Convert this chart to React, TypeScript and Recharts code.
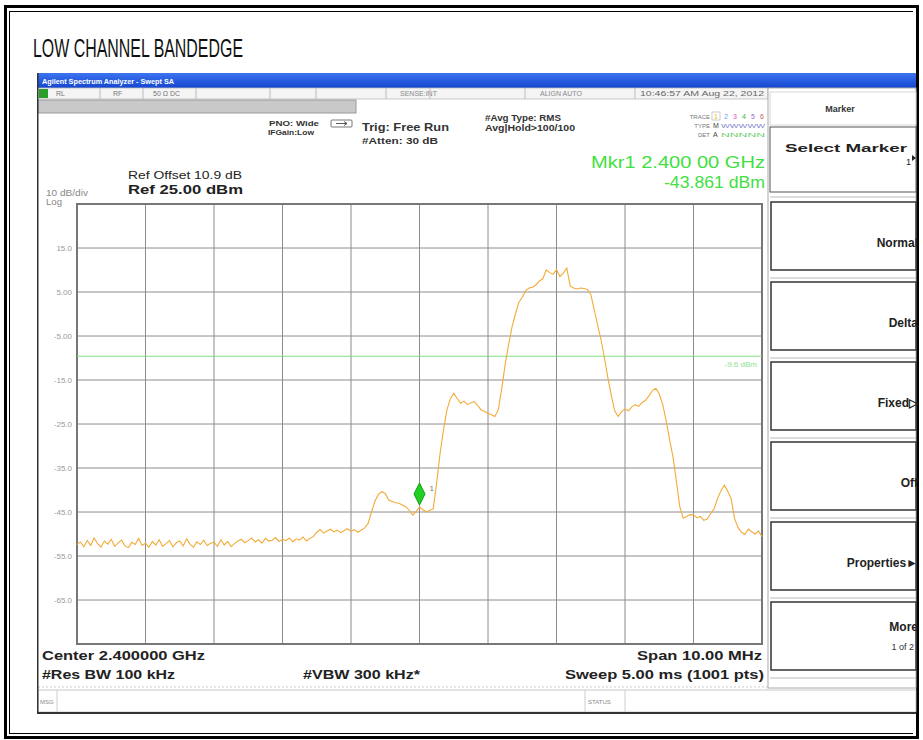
import React from 'react';
import { LineChart, Line, XAxis, YAxis, CartesianGrid, ReferenceLine, ReferenceDot, ReferenceArea } from 'recharts';

const START_MHZ = 2395;
const STEP_MHZ = 0.05;
const levelsDbm = [
  -52.4, -51.8, -52.9, -51.5, -52.6, -50.9, -52.2, -53.0, -51.6, -52.3,
  -51.2, -52.8, -52.0, -51.4, -52.7, -53.1, -51.9, -52.4, -51.0, -52.6,
  -52.1, -53.0, -51.7, -52.5, -51.3, -52.8, -52.2, -51.5, -52.9, -52.0,
  -51.6, -52.7, -51.1, -52.3, -53.0, -51.8, -52.4, -51.4, -52.6, -52.1,
  -51.9, -52.8, -51.3, -52.5, -51.7, -52.9, -52.2, -51.6, -51.2, -52.0,
  -51.5, -50.9, -51.8, -51.3, -52.1, -51.0, -51.6, -51.4, -50.8, -51.7,
  -51.2, -51.5, -50.9, -51.8, -51.1, -51.4, -50.7, -51.6, -51.0, -50.6,
  -49.6, -49.0, -49.8, -49.3, -48.9, -49.5, -49.1, -49.7, -49.2, -48.8,
  -49.4, -49.0, -49.6, -49.1, -48.6, -47.6, -45.0, -42.5, -41.0, -40.4,
  -40.8, -42.3, -42.6, -42.9, -43.0, -43.4, -43.8, -44.6, -45.7, -44.9,
  -43.861, -44.5, -45.0, -44.6, -44.3, -38.5, -31.7, -26.4, -21.8, -19.3,
  -18.0, -19.2, -20.3, -19.8, -20.6, -20.2, -19.9, -20.8, -21.8, -22.1,
  -22.6, -22.9, -23.3, -21.8, -17.0, -11.5, -7.0, -3.0, 0.0, 2.6,
  3.8, 5.3, 5.9, 6.1, 6.6, 7.5, 8.0, 10.0, 9.4, 9.0,
  10.1, 8.5, 9.3, 10.4, 6.4, 5.9, 5.7, 5.9, 5.8, 5.6,
  4.5, 1.0, -2.5, -5.8, -10.0, -14.5, -18.5, -22.0, -23.3, -22.2,
  -21.6, -22.0, -21.1, -20.6, -21.0, -20.1, -19.6, -18.6, -17.4, -16.9,
  -18.2, -20.5, -24.2, -28.5, -32.4, -38.0, -43.8, -46.4, -46.0, -45.6,
  -45.7, -46.3, -46.0, -46.9, -46.6, -45.4, -44.3, -42.0, -40.2, -38.9,
  -40.3, -42.0, -46.5, -48.5, -49.6, -50.1, -48.9, -49.5, -50.0, -49.3,
  -50.6,
];
const freqTicksMHz = [2395, 2396, 2397, 2398, 2399, 2400, 2401, 2402, 2403, 2404, 2405];
const levelTicksDbm = [25, 15, 5, -5, -15, -25, -35, -45, -55, -65, -75];
const levelTickLabels: Record<string, string> = {
  '15': '15.0', '5': '5.00', '-5': '-5.00', '-15': '-15.0', '-25': '-25.0',
  '-35': '-35.0', '-45': '-45.0', '-55': '-55.0', '-65': '-65.0',
};
const markerFreqMHz = 2400;
const markerLevelDbm = -43.861;
const displayLineDbm = -9.6;
const displayLineLabel = '-9.6 dBm';

const data = levelsDbm.map((v, i) => ({ f: Math.round((START_MHZ + i * STEP_MHZ) * 100) / 100, v }));

const FONT = '"Liberation Sans", Arial, sans-serif';

type TP = { x: number; y: number; s: string; size?: number; w?: number; bold?: boolean; fill?: string; anchor?: 'start' | 'middle' | 'end' };
const T = ({ x, y, s, size = 10, w, bold, fill = '#222', anchor = 'start' }: TP) => (
  <text x={x} y={y} fontSize={size} fontFamily={FONT} fontWeight={bold ? 'bold' : 'normal'} fill={fill} textAnchor={anchor}
    {...(w ? { textLength: w, lengthAdjust: 'spacingAndGlyphs' } : {})}>{s}</text>
);

const YTick = (props: any) => {
  const { x, y, payload } = props;
  const lbl = levelTickLabels[String(payload.value)];
  if (!lbl) return <g />;
  return <text x={x} y={y + 3} textAnchor="end" fontSize={8} fontFamily={FONT} fill="#9a9a9a">{lbl}</text>;
};

const MarkerShape = (props: any) => {
  const { cx, cy } = props;
  const by = cy - 2;
  return (
    <g>
      <path d={`M${cx},${by} L${cx - 5.5},${by - 11} L${cx},${by - 22} L${cx + 5.5},${by - 11} Z`} fill="#22d022" stroke="#139a13" strokeWidth={1} />
      <text x={cx + 10} y={by - 14} fontSize={8} fontFamily={FONT} fill="#777">1</text>
    </g>
  );
};

const softkeys = [
  { y: 202, label: 'Normal', sub: '' },
  { y: 282, label: 'Delta', sub: '' },
  { y: 362, label: 'Fixed\u25B7', sub: '' },
  { y: 442, label: 'Off', sub: '' },
  { y: 522, label: 'Properties\u25BA', sub: '' },
  { y: 602, label: 'More', sub: '1 of 2' },
];

const Background = () => (
  <svg width={923} height={740} style={{ position: 'absolute', left: 0, top: 0 }}>
    <rect x={0} y={0} width={923} height={740} fill="#fff" />
    {/* frame */}
    <rect x={4} y={5} width={915} height={3} fill="#000" />
    <rect x={9} y={11} width={904} height={1} fill="#000" />
    <rect x={4} y={5} width={3} height={734} fill="#000" />
    <rect x={9} y={11} width={1} height={722} fill="#000" />
    <rect x={9} y={733} width={904} height={1} fill="#000" />
    <rect x={4} y={736} width={915} height={3} fill="#000" />
    <rect x={916} y={5} width={3} height={734} fill="#000" />
    {/* title */}
    <T x={33} y={57} s="LOW CHANNEL BANDEDGE" size={26} w={210} fill="#111" />
    {/* screen */}
    <defs>
      <linearGradient id="blue" x1="0" y1="0" x2="0" y2="1">
        <stop offset="0" stopColor="#3d74f0" />
        <stop offset="1" stopColor="#1446cf" />
      </linearGradient>
    </defs>
    <rect x={38} y={73} width={878} height={15} fill="url(#blue)" />
    <T x={42} y={83.5} s="Agilent Spectrum Analyzer - Swept SA" size={7.5} w={132} fill="#fff" bold />
    {/* status row */}
    <rect x={38} y={88} width={730} height={11} fill="#f4f4f4" stroke="#bbb" strokeWidth={0.8} />
    <rect x={39} y={89} width={9} height={9} fill="#2aa02a" />
    <T x={56} y={96} s="RL" size={7} fill="#777" />
    <line x1={100} y1={88} x2={100} y2={99} stroke="#bbb" />
    <T x={113} y={96} s="RF" size={7} fill="#777" />
    <line x1={143} y1={88} x2={143} y2={99} stroke="#bbb" />
    <T x={153} y={96} s={'50 \u03A9   DC'} size={7} fill="#777" />
    <line x1={196} y1={88} x2={196} y2={99} stroke="#bbb" />
    <line x1={270} y1={88} x2={270} y2={99} stroke="#bbb" />
    <line x1={316} y1={88} x2={316} y2={99} stroke="#bbb" />
    <line x1={386} y1={88} x2={386} y2={99} stroke="#bbb" />
    <T x={400} y={96} s="SENSE:INT" size={7} fill="#888" />
    <line x1={430} y1={88} x2={430} y2={99} stroke="#bbb" />
    <line x1={525} y1={88} x2={525} y2={99} stroke="#bbb" />
    <T x={540} y={96} s="ALIGN AUTO" size={7} fill="#888" />
    <line x1={635} y1={88} x2={635} y2={99} stroke="#bbb" />
    <T x={640} y={96} s="10:46:57 AM Aug 22, 2012" size={7} w={124} fill="#666" />
    {/* grey input bar */}
    <rect x={38} y={100} width={318} height={13} fill="#c9c9c9" stroke="#999" strokeWidth={1} />
    {/* settings */}
    <T x={269} y={126} s="PNO: Wide" size={8} w={50} fill="#333" bold />
    <T x={268} y={135} s="IFGain:Low" size={8} w={46} fill="#333" bold />
    <rect x={331} y={120} width={21} height={7} fill="#fff" stroke="#555" strokeWidth={0.8} rx={1} />
    <path d="M336,123.5 L347,123.5 M344,121.5 L347,123.5 L344,125.5" stroke="#333" strokeWidth={0.8} fill="none" />
    <T x={362} y={131} s="Trig: Free Run" size={10} w={87} fill="#333" bold />
    <T x={362} y={144} s="#Atten: 30 dB" size={9} w={76} fill="#333" bold />
    <T x={485} y={121} s="#Avg Type: RMS" size={9} w={76} fill="#333" bold />
    <T x={485} y={131} s="Avg|Hold>100/100" size={9} w={90} fill="#333" bold />
    <T x={710} y={119} s="TRACE" size={6} fill="#777" anchor="end" />
    <rect x={712} y={112} width={8} height={8} fill="#fff" stroke="#aaa" strokeWidth={0.6} />
    <T x={714} y={119} s="1" size={7} fill="#e6c000" />
    <T x={724} y={119} s="2" size={7} fill="#6aa0ff" />
    <T x={733} y={119} s="3" size={7} fill="#d050d0" />
    <T x={742} y={119} s="4" size={7} fill="#40b040" />
    <T x={751} y={119} s="5" size={7} fill="#9a6ad0" />
    <T x={760} y={119} s="6" size={7} fill="#c86060" />
    <T x={710} y={128} s="TYPE" size={6} fill="#777" anchor="end" />
    <T x={713} y={128} s="M" size={7} fill="#444" />
    <T x={721} y={128} s="WWWWW" size={6} w={44} fill="#8888cc" />
    <T x={710} y={137} s="DET" size={6} fill="#777" anchor="end" />
    <T x={713} y={137} s="A" size={7} fill="#444" />
    <T x={721} y={137} s="NNNNN" size={6} w={44} fill="#66cc66" />
    <T x={765} y={168} s="Mkr1 2.400 00 GHz" size={17} w={174} fill="#3fe03f" anchor="end" />
    <T x={765} y={188} s="-43.861 dBm" size={17} w={101} fill="#3fe03f" anchor="end" />
    <T x={128} y={179} s="Ref Offset 10.9 dB" size={11} w={114} fill="#222" />
    <T x={128} y={194} s="Ref 25.00 dBm" size={13} w={115} fill="#222" bold />
    <T x={46} y={196} s="10 dB/div" size={9} w={42} fill="#888" />
    <T x={46} y={205} s="Log" size={9} w={16} fill="#888" />
    {/* footer */}
    <T x={42} y={660} s="Center 2.400000 GHz" size={12} w={163} fill="#222" bold />
    <T x={42} y={679} s="#Res BW 100 kHz" size={12} w={133} fill="#222" bold />
    <T x={303} y={679} s="#VBW 300 kHz*" size={12} w={117} fill="#222" bold />
    <T x={762} y={660} s="Span 10.00 MHz" size={12} w={125} fill="#222" bold anchor="end" />
    <T x={764} y={679} s="Sweep  5.00 ms (1001 pts)" size={12} w={199} fill="#222" bold anchor="end" />
    <line x1={38} y1={687} x2={768} y2={687} stroke="#ccc" strokeDasharray="2 2" />
    <rect x={38} y={690} width={878} height={22} fill="#fff" stroke="#bbb" strokeWidth={0.8} />
    <line x1={57} y1={690} x2={57} y2={712} stroke="#ccc" />
    <T x={40} y={704} s="MSG" size={6} fill="#888" />
    <line x1={585} y1={690} x2={585} y2={712} stroke="#ccc" />
    <T x={588} y={704} s="STATUS" size={6} fill="#888" />
    <line x1={625} y1={690} x2={625} y2={712} stroke="#ccc" />
    <rect x={38} y={712} width={878} height={2} fill="#333" />
    <rect x={37} y={73} width={1.5} height={641} fill="#333" />
    {/* right panel */}
    <rect x={768} y={88} width={148} height={600} fill="#fff" stroke="#aaa" strokeWidth={1} />
    <rect x={770} y={92} width={146} height={33} fill="#fff" stroke="#ccc" strokeWidth={0.8} />
    <T x={840} y={112} s="Marker" size={9} fill="#333" anchor="middle" bold />
    <rect x={770} y={127} width={146} height={65} fill="#fff" stroke="#555" strokeWidth={1} />
    <T x={785} y={152} s="Select Marker" size={10} w={122} fill="#222" bold />
    <path d="M912,155 L916,158 L912,161 Z" fill="#222" />
    <T x={906} y={165} s="1" size={9} fill="#222" />
    <line x1={770} y1={197} x2={916} y2={197} stroke="#bbb" />
    {softkeys.map((k, i) => (
      <g key={i}>
        <rect x={771} y={k.y} width={145} height={68} fill="#fff" stroke="#333" strokeWidth={1.5} />
        <line x1={770} y1={k.y + 76} x2={916} y2={k.y + 76} stroke="#bbb" />
        <T x={918} y={k.y + (k.sub ? 29 : 45)} s={k.label} size={12} fill="#222" bold anchor="end" />
        {k.sub ? <T x={914} y={k.y + 48} s={k.sub} size={9} fill="#333" anchor="end" /> : null}
      </g>
    ))}
  </svg>
);

export default function App() {
  return (
    <div style={{ position: 'absolute', left: 0, top: 0, width: 923, height: 740, overflow: 'hidden', background: '#fff' }}>
      <Background />
      <div style={{ position: 'absolute', left: 0, top: 0 }}>
        <LineChart width={923} height={740} data={data} margin={{ top: 204, right: 161, bottom: 96, left: 37 }}>
          <CartesianGrid stroke="#8c8c8c" strokeWidth={1} />
          <XAxis dataKey="f" type="number" domain={[2395, 2405]} ticks={freqTicksMHz} hide />
          <YAxis type="number" domain={[-75, 25]} ticks={levelTicksDbm} width={40} axisLine={false} tickLine={false} tickSize={3} tickMargin={2} tick={<YTick />} interval={0} />
          <ReferenceArea x1={2395} x2={2405} y1={-75} y2={25} fill="none" stroke="#777" strokeWidth={2} fillOpacity={0} />
          <ReferenceLine y={displayLineDbm} stroke="#7fdc7f" strokeWidth={1}
            label={{ value: displayLineLabel, position: 'insideTopRight', fill: '#8ee08e', fontSize: 8, fontFamily: FONT }} />
          <Line type="linear" dataKey="v" stroke="#f2ab38" strokeWidth={1.1} dot={false} isAnimationActive={false} />
          <ReferenceDot x={markerFreqMHz} y={markerLevelDbm} shape={<MarkerShape />} />
        </LineChart>
      </div>
    </div>
  );
}
